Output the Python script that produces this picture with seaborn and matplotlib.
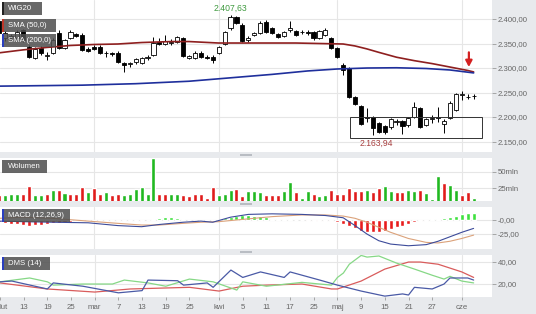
import numpy as np
import pandas as pd
import matplotlib
matplotlib.use("Agg")
import matplotlib.pyplot as plt
import seaborn as sns
from matplotlib.patches import Rectangle

# ---------------- data ----------------
idx = list(range(-4, 77))
opens = [2395, 2361, 2366, 2361, 2377, 2342, 2320, 2340, 2324, 2330, 2371, 2341, 2361, 2370, 2368, 2339, 2342,
         2343, 2331, 2330, 2331, 2310, 2308, 2312, 2310, 2321, 2327, 2353, 2349, 2352, 2353, 2361, 2320, 2320,
         2331, 2322, 2322, 2330, 2349, 2381, 2404, 2388, 2357, 2367, 2371, 2394, 2382, 2369, 2365, 2377, 2375,
         2373, 2373, 2373, 2361, 2367, 2361, 2341, 2306, 2300, 2241, 2222, 2199, 2200, 2188, 2182, 2180, 2190,
         2192, 2184, 2200, 2218, 2184, 2195, 2199, 2186, 2198, 2214, 2244, 2240, 2242]
highs = [2402, 2375, 2370, 2378, 2380, 2346, 2342, 2344, 2333, 2362, 2378, 2360, 2378, 2371, 2372, 2343, 2346,
         2346, 2334, 2332, 2334, 2312, 2313, 2321, 2322, 2327, 2363, 2361, 2367, 2359, 2366, 2364, 2327, 2334,
         2334, 2326, 2326, 2345, 2376, 2407.63, 2406, 2392, 2365, 2373, 2395, 2397, 2384, 2372, 2375, 2396, 2378,
         2378, 2377, 2376, 2378, 2381, 2364, 2343, 2310, 2302, 2243, 2224, 2218, 2203, 2190, 2184, 2198, 2195,
         2194, 2200, 2230, 2221, 2199, 2204, 2220, 2195, 2232, 2249, 2253, 2247, 2247]
lows = [2368, 2356, 2358, 2358, 2354, 2320, 2318, 2327, 2316, 2328, 2338, 2338, 2359, 2364, 2335, 2333, 2336,
        2328, 2322, 2324, 2310, 2292, 2302, 2309, 2308, 2317, 2325, 2347, 2347, 2347, 2351, 2323, 2318, 2318,
        2320, 2318, 2310, 2328, 2347, 2377, 2390, 2353, 2354, 2365, 2369, 2371, 2369, 2361, 2363, 2374, 2365,
        2369, 2368, 2358, 2359, 2365, 2338, 2320, 2286, 2239, 2225, 2184, 2190, 2163.94, 2167, 2166, 2176, 2184,
        2165, 2180, 2198, 2177, 2181, 2188, 2190, 2167, 2196, 2212, 2235, 2237, 2237]
closes = [2372, 2371, 2362, 2373, 2357, 2322, 2338, 2330, 2327, 2357, 2341, 2357, 2373, 2366, 2337, 2335, 2338,
          2331, 2330, 2328, 2312, 2306, 2310, 2318, 2320, 2323, 2351, 2349, 2355, 2353, 2363, 2325, 2324, 2331,
          2322, 2321, 2316, 2343, 2373, 2404, 2392, 2355, 2361, 2371, 2392, 2373, 2371, 2363, 2373, 2381, 2367,
          2374, 2372, 2361, 2375, 2378, 2341, 2322, 2296, 2241, 2227, 2186, 2201, 2178, 2169, 2170, 2196, 2191,
          2182, 2198, 2220, 2180, 2196, 2197, 2201, 2192, 2229, 2247, 2246, 2241, 2243]

sma50_idx = [-4, 0, 4, 8, 12, 16, 20, 25, 28, 33, 38, 42, 46, 50, 54, 56, 58, 60, 63, 66, 69, 72, 75, 76]
sma50_val = [2331, 2337, 2342, 2346, 2348, 2349, 2352, 2354, 2354, 2351, 2351, 2351, 2351, 2350, 2349, 2345,
             2339, 2332, 2322, 2315, 2309, 2302, 2295, 2292]
sma200_idx = [-4, 10, 19, 28, 35, 42, 48, 53, 58, 63, 68, 72, 76]
sma200_val = [2263, 2265, 2268, 2273, 2280, 2287, 2294, 2298, 2300, 2300.5, 2299, 2296, 2290]

volume = [15, 15, 16, 16, 16, 29, 15, 15, 16, 23, 23, 18, 17, 16, 27, 20, 25, 17, 20, 15, 16, 15, 17, 24, 28, 17,
          71, 17, 17, 17, 17, 15, 14, 16, 17, 10, 27, 15, 17, 22, 24, 14, 21, 21, 20, 15, 15, 15, 21, 35, 20, 11,
          21, 16, 14, 15, 23, 16, 16, 25, 21, 21, 23, 20, 25, 29, 21, 19, 19, 23, 21, 23, 18, 9, 44, 33, 30, 23,
          15, 19, 10]
vol_up = [0, 1, 1, 1, 0, 0, 1, 1, 0, 1, 0, 1, 0, 0, 0, 1, 0, 0, 1, 0, 0, 1, 1, 1, 1, 1,
          1, 0, 0, 1, 1, 0, 0, 0, 0, 0, 0, 1, 1, 1, 0, 0, 1, 1, 1, 0, 0, 0, 1, 1, 0, 1,
          1, 0, 1, 1, 0, 0, 0, 0, 0, 0, 1, 0, 0, 1, 1, 0, 0, 1, 1, 0, 1, 1, 1, 0, 1, 1,
          0, 0, 1]

macd_hist = [-3, -5, -7, -8, -9, -10, -9, -9, -8, -6, -5, -4, -3, -2, -2, -2, -2, -2, -2, -1, -1, -2, -2, -1,
             -1, 0, 2, 4, 5, 5, 4, 2, 0, 0, -1, -1, -1, 0, 3, 5, 8, 9, 9, 8, 7, 5, 2, 1, 1, 1, 0, 0, -1, -1,
             -1, -1, -2, -4, -7, -11, -15, -19, -21, -22, -21, -19, -16, -13, -10, -7, -4, -2, -1, 1, 2, 3, 5,
             8, 11, 12, 12]
macd_idx = [-4, 0, 5, 11, 16, 20, 23, 27, 30, 32, 35, 38, 42, 47, 51, 54, 56, 58, 60, 62, 65, 68, 70, 72, 74, 76]
macd_val = [-2, -3, -4, -5, -10, -12, -8, -4, -2, -4, 5, 10, 11, 10, 8, 4, -10, -25, -37, -43, -46, -44, -38,
            -30, -22, -15]
signal_idx = [-4, 0, 5, 11, 16, 20, 23, 27, 30, 33, 36, 39, 42, 47, 51, 54, 56, 58, 60, 62, 65, 68, 70, 72, 74, 76]
signal_val = [3, 5, 3, -2, -6, -9, -9, -6, -4, -3, 0, 3, 6, 9, 9, 7, 3, -4, -13, -22, -33, -40, -41, -38, -33, -27]

minus_di_idx = [-4, -2, 4, 5, 10, 16, 20, 21, 26, 27, 31, 32, 35, 37, 40, 44, 45, 50, 53, 57, 61, 64, 65, 66,
                69, 71, 72, 75, 76]
minus_di_val = [22, 22.7, 15.5, 21, 18, 12, 14, 23.6, 23, 19, 21, 17, 32.7, 26, 31, 26, 31, 23.6, 19, 13.6, 9,
                11, 10, 17, 15.5, 20, 25.5, 25.5, 23.6]
plus_di_idx = [-4, 1, 4, 5, 10, 15, 17, 21, 24, 28, 32, 36, 37, 41, 47, 52, 53, 54, 55, 57, 58, 60, 63, 66, 69,
               71, 72, 74, 76]
plus_di_val = [22, 25.5, 22, 19, 20, 20, 23.6, 21, 18, 24.5, 22, 14.5, 22, 18, 21.5, 19, 26, 30, 38, 46, 44.5,
               45.5, 39, 33.6, 28, 24.5, 27, 22.7, 21]
adx_idx = [-4, 4, 12, 18, 28, 33, 37, 41, 47, 52, 53, 57, 61, 65, 67, 70, 74, 76]
adx_val = [21, 15.5, 12.7, 15.5, 17, 13.6, 18, 19, 20, 15.5, 15.5, 22.7, 33.6, 40, 40, 38, 31, 26]

xtick_idx = [-4, 0, 4, 8, 12, 16, 20, 24, 28, 33, 37, 41, 45, 49, 53, 57, 61, 65, 69, 74]
xtick_labels = ['lut', '13', '19', '25', 'mar', '7', '13', '19', '25', 'kwi', '5', '11', '17', '25', 'maj',
                '9', '15', '21', '27', 'cze']
month_idx = [12, 33, 53, 74]

price_ticks = [2150, 2200, 2250, 2300, 2350, 2400]
price_labels = ['2.150,00', '2.200,00', '2.250,00', '2.300,00', '2.350,00', '2.400,00']
vol_ticks = [25, 50]
vol_labels = ['25mln', '50mln']
macd_ticks = [-25, 0]
macd_labels = ['-25,00', '-0,00']
dms_ticks = [20, 40]
dms_labels = ['20,00', '40,00']

high_label = '2.407,63'
high_at = (35, 2407.63)
low_label = '2.163,94'
low_at = (59.6, 2163.94)
box_x = [55.2, 77.4]
box_y = [2157, 2200]
arrow_at = (75.2, 2302)
arrow_from = (75.2, 2332)

# ---------------- style ----------------
sns.set_theme(style="white")
plt.rcParams['font.family'] = ['Liberation Sans', 'DejaVu Sans']

W, H = 536, 314
BG = '#e8eaed'
fig = plt.figure(figsize=(W / 100, H / 100), dpi=100)
fig.patch.set_facecolor(BG)

XL = (-3.88, 79.1)
GRID = '#e6e6e6'
TICKC = '#9a9a9a'
LABC = '#666666'
FS = 5.6


def add_ax(top, bottom, left=0, right=492):
    ax = fig.add_axes([left / W, 1 - bottom / H, (right - left) / W, (bottom - top) / H])
    ax.set_facecolor('white')
    for s in ax.spines.values():
        s.set_visible(False)
    ax.set_xlim(*XL)
    ax.yaxis.tick_right()
    ax.tick_params(axis='y', which='both', right=True, left=False, length=3, width=0.6,
                   color=TICKC, labelsize=FS, labelcolor=LABC, pad=1)
    ax.tick_params(axis='x', bottom=False, labelbottom=False)
    for m in month_idx:
        ax.axvline(m, color=GRID, lw=0.8, zorder=0)
    return ax


def label_box(x0, y0, x1, y1, text, border=None):
    r = Rectangle((x0 / W, 1 - y1 / H), (x1 - x0) / W, (y1 - y0) / H, transform=fig.transFigure,
                  facecolor='#4e4e4e', alpha=0.85, edgecolor='none', zorder=20)
    fig.add_artist(r)
    if border is not None:
        b = Rectangle((x0 / W, 1 - y1 / H), 2.2 / W, (y1 - y0) / H, transform=fig.transFigure,
                      facecolor=border, edgecolor='none', zorder=21)
        fig.add_artist(b)
    fig.text((x0 + 6) / W, 1 - ((y0 + y1) / 2) / H, text, color='white', fontsize=5.6,
             va='center', ha='left', zorder=22)


def handle(yc):
    r = Rectangle((240 / W, 1 - (yc + 1.2) / H), 12 / W, 2.4 / H, transform=fig.transFigure,
                  facecolor='#b9bdc3', edgecolor='none', zorder=5)
    fig.add_artist(r)


# ---------------- price panel ----------------
axp = add_ax(0, 152)
axp.set_ylim(2128.6, 2438.8)
axp.set_yticks(price_ticks)
axp.set_yticklabels(price_labels)
for t in price_ticks:
    axp.axhline(t, color=GRID, lw=0.8, zorder=0)

o = np.array(opens, float); c = np.array(closes, float)
hi = np.array(highs, float); lo = np.array(lows, float)
x = np.array(idx, float)
axp.vlines(x, lo, hi, color='black', lw=0.7, zorder=3)
up = c >= o
body_bottom = np.minimum(o, c)
body_h = np.maximum(np.abs(c - o), 1.2)
axp.bar(x[up], body_h[up], bottom=body_bottom[up], width=0.7, facecolor='white',
        edgecolor='black', linewidth=0.6, zorder=4)
axp.bar(x[~up], body_h[~up], bottom=body_bottom[~up], width=0.7, facecolor='black',
        edgecolor='black', linewidth=0.6, zorder=4)

sns.lineplot(x=sma50_idx, y=sma50_val, ax=axp, color='#8e1f1f', lw=1.2, zorder=5)
sns.lineplot(x=sma200_idx, y=sma200_val, ax=axp, color='#1f2f9c', lw=1.2, zorder=5)

axp.add_patch(Rectangle((box_x[0], box_y[0]), box_x[1] - box_x[0], box_y[1] - box_y[0],
                        facecolor='none', edgecolor='#333333', lw=0.7, zorder=6))
axp.annotate(high_label, xy=high_at, xytext=(0, 2), textcoords='offset points', ha='center',
             va='bottom', fontsize=6.2, color='#3f9a3f', zorder=7)
axp.annotate(low_label, xy=low_at, xytext=(0, -3), textcoords='offset points', ha='center',
             va='top', fontsize=6.2, color='#a84040', zorder=7)
axp.annotate('', xy=arrow_at, xytext=arrow_from,
             arrowprops=dict(arrowstyle='-|>,head_width=0.16,head_length=0.3', color='#d42020',
                             lw=1.6, shrinkA=0, shrinkB=0),
             zorder=7)
axp.set_xlabel(''); axp.set_ylabel('')

# ---------------- volume ----------------
axv = add_ax(158, 201)
dfv = pd.DataFrame({'i': idx, 'v': volume, 'd': ['up' if u else 'dn' for u in vol_up]})
sns.barplot(data=dfv, x='i', y='v', hue='d', palette={'up': '#21b921', 'dn': '#e01c1c'},
            native_scale=True, dodge=False, width=0.68, saturation=1, legend=False, ax=axv, zorder=3)
axv.set_xlim(*XL)
axv.set_ylim(6.06, 71.2)
axv.set_yticks(vol_ticks); axv.set_yticklabels(vol_labels)
for t in vol_ticks:
    axv.axhline(t, color=GRID, lw=0.8, zorder=0)
axv.set_xlabel(''); axv.set_ylabel('')

# ---------------- MACD ----------------
axm = add_ax(207, 249)
dfm = pd.DataFrame({'i': idx, 'h': macd_hist, 'd': ['up' if h > 0 else 'dn' for h in macd_hist]})
sns.barplot(data=dfm, x='i', y='h', hue='d', palette={'up': '#3ee03e', 'dn': '#e81c1c'},
            native_scale=True, dodge=False, width=0.68, saturation=1, legend=False, ax=axm, zorder=3)
sns.lineplot(x=signal_idx, y=signal_val, ax=axm, color='#dba27a', lw=0.8, zorder=4)
sns.lineplot(x=macd_idx, y=macd_val, ax=axm, color='#3c4b9a', lw=0.8, zorder=5)
axm.set_xlim(*XL)
axm.set_ylim(-51.8, 23.2)
axm.set_yticks(macd_ticks); axm.set_yticklabels(macd_labels)
for t in macd_ticks:
    axm.axhline(t, color=GRID, lw=0.8, zorder=0)
axm.set_xlabel(''); axm.set_ylabel('')

# ---------------- DMS ----------------
axd = add_ax(255, 297)
sns.lineplot(x=adx_idx, y=adx_val, ax=axd, color='#d95c5c', lw=0.9, zorder=4)
sns.lineplot(x=plus_di_idx, y=plus_di_val, ax=axd, color='#86d886', lw=0.9, zorder=4)
sns.lineplot(x=minus_di_idx, y=minus_di_val, ax=axd, color='#4a5aa6', lw=0.9, zorder=5)
axd.set_xlim(*XL)
axd.set_ylim(8.2, 46.4)
axd.set_yticks(dms_ticks); axd.set_yticklabels(dms_labels)
for t in dms_ticks:
    axd.axhline(t, color=GRID, lw=0.8, zorder=0)
axd.set_xticks(xtick_idx)
axd.set_xticklabels(xtick_labels)
axd.tick_params(axis='x', bottom=True, labelbottom=True, length=2, width=0.6, color=TICKC,
                labelsize=FS, labelcolor=LABC, pad=3)
first = axd.get_xticklabels()[0]
first.set_horizontalalignment('left')
first.set_x(XL[0])
axd.set_xlabel(''); axd.set_ylabel('')

# ---------------- overlays ----------------
label_box(2, 2, 42, 15, 'WIG20', border='#222222')
label_box(2, 19, 56, 32, 'SMA (50,0)', border='#c0392b')
label_box(2, 34, 56, 47, 'SMA (200,0)', border='#2a3fbf')
label_box(2, 160, 47, 173, 'Wolumen')
label_box(2, 209, 70, 222, 'MACD (12,26,9)', border='#2a3fbf')
label_box(2, 257, 50, 270, 'DMS (14)', border='#2a3fbf')
for yc in (155, 204, 252):
    handle(yc)

fig.savefig('out.png', dpi=100, facecolor=fig.get_facecolor())
